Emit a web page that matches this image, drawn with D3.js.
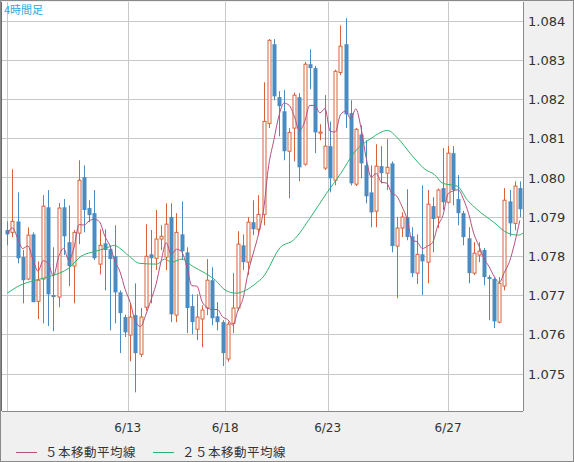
<!DOCTYPE html>
<html><head><meta charset="utf-8">
<script src="https://cdn.jsdelivr.net/npm/d3@7"></script>
<style>html,body{margin:0;padding:0;background:#f0f0f0;}svg{display:block;}</style>
</head><body>
<svg id="c" width="574" height="462"></svg>
<script>
const opens=[1.07866,1.07860,1.07888,1.07797,1.07741,1.07855,1.07684,1.07741,1.07924,1.07700,1.07695,1.07924,1.07835,1.07774,1.07858,1.08001,1.07922,1.07909,1.07779,1.07832,1.07817,1.07799,1.07707,1.07644,1.07598,1.07649,1.07549,1.07669,1.07804,1.07794,1.07843,1.07797,1.07899,1.07649,1.07855,1.07809,1.07672,1.07613,1.07639,1.07667,1.07738,1.07646,1.07631,1.07537,1.07628,1.07667,1.07827,1.07784,1.07886,1.07868,1.07906,1.08138,1.08340,1.08205,1.08169,1.08067,1.08126,1.08205,1.08034,1.08289,1.08279,1.08113,1.08024,1.08080,1.07993,1.08268,1.08340,1.08164,1.07983,1.08110,1.08031,1.07962,1.07914,1.08029,1.08011,1.08036,1.07825,1.07871,1.07899,1.07850,1.07756,1.07804,1.07784,1.07927,1.07899,1.07973,1.07937,1.08062,1.07945,1.07909,1.07845,1.07756,1.07802,1.07815,1.07746,1.07741,1.07631,1.07723,1.07939,1.07883,1.07973];
const highs=[1.07888,1.08021,1.07962,1.07815,1.07873,1.07860,1.07786,1.07955,1.07968,1.07822,1.07935,1.07945,1.07929,1.07866,1.08044,1.08031,1.07942,1.07968,1.07868,1.07868,1.07827,1.07878,1.07712,1.07650,1.07679,1.07730,1.07667,1.07881,1.07866,1.07917,1.07878,1.07934,1.07934,1.07909,1.07939,1.07822,1.07702,1.07702,1.07674,1.07792,1.07771,1.07682,1.07636,1.07632,1.07756,1.07863,1.07855,1.07899,1.07942,1.07955,1.08243,1.08353,1.08353,1.08220,1.08223,1.08126,1.08217,1.08215,1.08295,1.08327,1.08285,1.08136,1.08210,1.08143,1.08275,1.08388,1.08406,1.08197,1.08126,1.08133,1.08095,1.08031,1.08085,1.08080,1.08098,1.08041,1.07899,1.07911,1.07970,1.07873,1.07855,1.07980,1.07968,1.07950,1.07972,1.08075,1.08080,1.08080,1.08006,1.07915,1.07873,1.07835,1.07835,1.07820,1.07751,1.07745,1.07746,1.07973,1.07968,1.07990,1.07990];
const lows=[1.07827,1.07848,1.07781,1.07679,1.07738,1.07682,1.07639,1.07628,1.07621,1.07608,1.07669,1.07802,1.07723,1.07679,1.07830,1.07860,1.07886,1.07789,1.07753,1.07712,1.07610,1.07628,1.07552,1.07593,1.07531,1.07452,1.07542,1.07660,1.07679,1.07764,1.07815,1.07764,1.07631,1.07631,1.07789,1.07603,1.07600,1.07585,1.07567,1.07649,1.07623,1.07610,1.07519,1.07530,1.07603,1.07660,1.07764,1.07751,1.07853,1.07853,1.07878,1.08126,1.08197,1.08105,1.08044,1.07947,1.08041,1.07990,1.08030,1.08225,1.08062,1.08095,1.08019,1.07962,1.07980,1.08261,1.08126,1.07980,1.07978,1.07998,1.07934,1.07873,1.07873,1.07985,1.07968,1.07809,1.07692,1.07848,1.07840,1.07746,1.07728,1.07700,1.07730,1.07809,1.07871,1.07917,1.07934,1.07929,1.07878,1.07827,1.07730,1.07751,1.07784,1.07725,1.07636,1.07616,1.07628,1.07712,1.07850,1.07865,1.07899];
const closes=[1.07855,1.07888,1.07794,1.07738,1.07853,1.07682,1.07738,1.07927,1.07702,1.07695,1.07922,1.07850,1.07774,1.07860,1.07993,1.07917,1.07904,1.07794,1.07827,1.07815,1.07792,1.07707,1.07654,1.07605,1.07644,1.07552,1.07644,1.07799,1.07794,1.07843,1.07850,1.07881,1.07651,1.07860,1.07812,1.07667,1.07631,1.07644,1.07662,1.07738,1.07641,1.07631,1.07552,1.07626,1.07667,1.07830,1.07784,1.07886,1.07868,1.07906,1.08143,1.08350,1.08207,1.08182,1.08067,1.08115,1.08210,1.08026,1.08289,1.08279,1.08115,1.08116,1.08080,1.07998,1.08271,1.08335,1.08161,1.07985,1.08123,1.08036,1.07952,1.07911,1.08029,1.08011,1.08026,1.07825,1.07871,1.07899,1.07848,1.07756,1.07804,1.07786,1.07932,1.07894,1.07968,1.07937,1.08062,1.07968,1.07909,1.07848,1.07756,1.07807,1.07812,1.07746,1.07741,1.07633,1.07730,1.07942,1.07883,1.07978,1.07919];
const ma25Index=[0,2.5,5.5,8.4,12,14.4,17.3,19.3,20.9,21.9,23.8,25.8,29.2,30.7,32.1,34.1,36.1,38.6,40.6,42.6,44.6,46.5,48.5,49.9,53.3,55.8,59.2,62.3,65.1,67.7,71,74.2,76.2,78.9,81.5,83.3,85,87.8,89.8,91.8,94.9,97.7,99.8,100.6];
const ma25Values=[1.07705,1.07725,1.07738,1.07748,1.07769,1.07799,1.07812,1.07820,1.07827,1.07820,1.07799,1.07781,1.07779,1.07792,1.07784,1.07792,1.07774,1.07756,1.07738,1.07712,1.07705,1.07712,1.07730,1.07746,1.07822,1.07840,1.07899,1.07960,1.08011,1.08064,1.08100,1.08120,1.08100,1.08057,1.08021,1.08008,1.07985,1.07978,1.07942,1.07917,1.07886,1.07858,1.07853,1.07858];
const yTicks=[1.075,1.076,1.077,1.078,1.079,1.080,1.081,1.082,1.083,1.084];
const xTickIndex=[0,23.5,42.5,62.5,86];
const xTickLabels=["","6/13","6/18","6/23","6/27"];
const legendLabels=["５本移動平均線","２５本移動平均線"];
const title="4時間足";

const svg=d3.select("#c");
const L=2,R=523,T=2,B=411;
const x=d3.scaleLinear().domain([0,100]).range([7.3,519.8]);
const y=d3.scaleLinear().domain([1.075,1.084]).range([373.5,20.7]);
svg.append("rect").attr("x",0.5).attr("y",0.5).attr("width",573).attr("height",461).attr("fill","#f0f0f0").attr("stroke","#8a8a8a");
svg.append("rect").attr("x",L).attr("y",T).attr("width",R-L).attr("height",B-T).attr("fill","#fff");
const g=svg.append("g");
g.selectAll(".hg").data(yTicks).join("line").attr("x1",L).attr("x2",R).attr("y1",d=>Math.round(y(d))+0.5).attr("y2",d=>Math.round(y(d))+0.5).attr("stroke","#c8c8c8");
g.selectAll(".vg").data(xTickIndex).join("line").attr("x1",d=>Math.round(x(d))+0.5).attr("x2",d=>Math.round(x(d))+0.5).attr("y1",T).attr("y2",B).attr("stroke","#c8c8c8");
svg.selectAll(".yl").data(yTicks).join("text").attr("x",528).attr("y",d=>y(d)+5).text(d=>d.toFixed(3)).attr("font-family","DejaVu Sans").attr("font-size",13).attr("fill","#333");
svg.selectAll(".xl").data(xTickIndex).join("text").attr("x",d=>x(d)).attr("y",432).attr("text-anchor","middle").text((d,i)=>xTickLabels[i]).attr("font-family","DejaVu Sans").attr("font-size",12).attr("fill","#333");
const data=opens.map((o,i)=>({i,o,h:highs[i],l:lows[i],c:closes[i]}));
const RED="#d9623b",BLUE="#4a8bc2";
const cg=svg.append("g");
data.forEach(d=>{
  const up=d.c>=d.o, col=up?RED:BLUE, cx=Math.round(x(d.i))+0.5;
  const top=y(Math.max(d.o,d.c)), bot=y(Math.min(d.o,d.c));
  cg.append("line").attr("x1",cx).attr("x2",cx).attr("y1",y(d.h)).attr("y2",y(d.l)).attr("stroke",col);
  if(up){cg.append("rect").attr("x",cx-1.5).attr("y",top).attr("width",3).attr("height",Math.max(bot-top,0.5)).attr("fill","#fff").attr("stroke",col);}
  else{cg.append("rect").attr("x",cx-2).attr("y",top).attr("width",4).attr("height",Math.max(bot-top,1)).attr("fill",col);}
});
const ma5=closes.map((c,i)=>{const s=closes.slice(Math.max(0,i-4),i+1);return d3.mean(s);});
svg.append("path").datum(ma5).attr("d",d3.line().x((d,i)=>x(i)).y(d=>y(d)).curve(d3.curveMonotoneX)).attr("fill","none").attr("stroke","#b5507e").attr("stroke-width",1);
svg.append("path").datum(ma25Values).attr("d",d3.line().x((d,i)=>x(ma25Index[i])).y(d=>y(d)).curve(d3.curveMonotoneX)).attr("fill","none").attr("stroke","#2eb46e").attr("stroke-width",1);
svg.append("line").attr("x1",R+0.5).attr("x2",R+0.5).attr("y1",T).attr("y2",B).attr("stroke","#8a8a8a");
svg.append("line").attr("x1",L).attr("x2",R).attr("y1",B+0.5).attr("y2",B+0.5).attr("stroke","#8a8a8a");
svg.append("line").attr("x1",1.5).attr("x2",1.5).attr("y1",T).attr("y2",B).attr("stroke","#6a6a6a");
svg.append("text").attr("x",4).attr("y",14).text(title).attr("font-family","Noto Sans CJK JP").attr("font-size",11).attr("fill","#2aa8e0");
const lg=[{x:16,col:"#b5507e"},{x:153,col:"#2eb46e"}];
lg.forEach((l,i)=>{
  svg.append("line").attr("x1",l.x).attr("x2",l.x+21).attr("y1",452.5).attr("y2",452.5).attr("stroke",l.col);
  svg.append("text").attr("x",l.x+29).attr("y",457).text(legendLabels[i]).attr("font-family","Noto Sans CJK JP").attr("font-size",12.5).attr("letter-spacing","0.5").attr("fill","#333");
});
</script>
</body></html>
